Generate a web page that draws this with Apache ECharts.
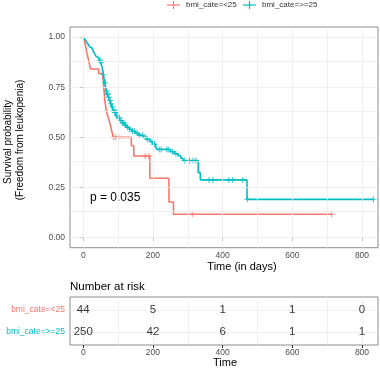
<!DOCTYPE html>
<html>
<head>
<meta charset="utf-8">
<script src="https://cdn.jsdelivr.net/npm/echarts@6/dist/echarts.min.js"></script>
<style>html,body{margin:0;padding:0;background:#fff}#c{width:380px;height:369px}</style>
</head>
<body>
<div id="c"></div>
<script>
// ---- data ----
const groupNames = ['bmi_cate=<25', 'bmi_cate=>=25'];
// Kaplan-Meier steps: [time, survival from this time]
const redSteps = [[0,1.0],[4,0.977],[7,0.955],[9,0.932],[12,0.909],[15,0.886],[18,0.864],[21,0.841],[44,0.818],[56,0.795],[58,0.773],[59,0.750],[60,0.727],[61,0.705],[62,0.682],[64,0.659],[66,0.636],[69,0.614],[73,0.591],[77,0.568],[80,0.545],[83,0.523],[86,0.500],[138,0.458],[145,0.407],[191,0.296],[246,0.178],[259,0.117],[713,0.117]];
const redCensor = [87,93,102,178,188,313,713];
const tealSteps = [[0,1.0],[5,0.988],[9,0.976],[14,0.964],[18,0.952],[22,0.944],[26,0.936],[29,0.928],[33,0.916],[37,0.904],[41,0.896],[45,0.884],[50,0.872],[54,0.852],[56,0.832],[58,0.812],[60,0.792],[62,0.772],[64,0.752],[66,0.732],[68,0.716],[72,0.700],[76,0.684],[79,0.668],[82,0.652],[86,0.636],[90,0.624],[95,0.608],[100,0.596],[105,0.584],[112,0.572],[118,0.560],[124,0.550],[132,0.540],[140,0.530],[150,0.520],[160,0.510],[172,0.500],[182,0.490],[192,0.478],[200,0.466],[208,0.452],[212,0.440],[250,0.428],[262,0.418],[272,0.408],[280,0.396],[286,0.384],[330,0.324],[336,0.288],[470,0.191],[833,0.191]];
const tealCensor = [49,52,58,63,66,69,71,74,77,80,84,88,91,94,97,101,104,108,113,117,121,127,134,141,147,155,162,170,178,185,197,204,218,224,240,244,256,266,291,305,315,323,361,372,418,428,458,471,833];
const riskTimes = [0,200,400,600,800];
const riskRed = [44,5,1,1,0];
const riskTeal = [250,42,6,1,1];
const xTicks = [0,200,400,600,800];
const yTicks = [0,0.25,0.5,0.75,1];
const pValueText = 'p = 0.035';

const RED = '#F8766D', TEAL = '#00BFC4';
const FONT = 'Liberation Sans, Arial, sans-serif';

function survAt(steps, t){ let s = steps[0][1]; for (const p of steps){ if (p[0] <= t) s = p[1]; } return s; }
const plus = 'path://M-0.17,-1H0.17V-0.17H1V0.17H0.17V1H-0.17V0.17H-1V-0.17H-0.17Z';

const xGrid = [0,100,200,300,400,500,600,700,800];
const yGrid = [0,0.125,0.25,0.375,0.5,0.625,0.75,0.875,1];

const chart = echarts.init(document.getElementById('c'), null, {renderer:'canvas'});
function xAxisFor(idx, margin){
  return {
    gridIndex:idx, type:'value', min:-38, max:846,
    axisLine:{show:false},
    axisTick:{show:true, customValues:xTicks, length:3, lineStyle:{color:'#333', width:1}},
    axisLabel:{customValues:xTicks, fontSize:8.5, color:'#4d4d4d', margin:margin, fontFamily:FONT},
    splitLine:{show:false}
  };
}
const gridLineStyle = {color:'#ebebeb', width:0.8, type:'solid'};
function gridSeries(xi, yi, ys){
  return {type:'line', xAxisIndex:xi, yAxisIndex:yi, data:[], silent:true, z:0,
    markLine:{silent:true, symbol:'none', label:{show:false}, lineStyle:gridLineStyle, animation:false,
      data: xGrid.map(v=>({xAxis:v})).concat(ys.map(v=>({yAxis:v})))}};
}
function legendItem(x, color, name){
  return [
    {type:'line', shape:{x1:x, y1:5, x2:x+13, y2:5}, style:{stroke:color, lineWidth:1.2}},
    {type:'line', shape:{x1:x+6.5, y1:1, x2:x+6.5, y2:9}, style:{stroke:color, lineWidth:1.2}},
    {type:'text', x:x+19, y:5, style:{text:name, fill:'#333', font:'8px '+FONT, textAlign:'left', textVerticalAlign:'middle'}}
  ];
}

chart.setOption({
  animation:false,
  textStyle:{fontFamily:FONT},
  grid:[
    {left:70, top:27, width:308, height:220.7, show:true, borderColor:'#8c8c8c', borderWidth:1, backgroundColor:'transparent'},
    {left:70, top:297, width:308, height:48, show:true, borderColor:'#8c8c8c', borderWidth:1, backgroundColor:'transparent'}
  ],
  xAxis:[xAxisFor(0,3), xAxisFor(1,3)],
  yAxis:[
    {gridIndex:0, type:'value', min:-0.05, max:1.05, axisLine:{show:false},
      axisTick:{show:true, customValues:yTicks, length:3, lineStyle:{color:'#333'}},
      axisLabel:{customValues:yTicks, fontSize:8.5, color:'#4d4d4d', margin:5, formatter:v=>v.toFixed(2), fontFamily:FONT},
      splitLine:{show:false}},
    {gridIndex:1, type:'value', min:0.4, max:2.6, axisLine:{show:false},
      axisTick:{show:true, customValues:[1,2], length:3, lineStyle:{color:'#333'}},
      axisLabel:{customValues:[1,2], margin:5, formatter:v=> v===2 ? '{r|'+groupNames[0]+'}' : '{t|'+groupNames[1]+'}',
        rich:{r:{color:RED, fontSize:8.5, fontFamily:FONT}, t:{color:TEAL, fontSize:8.5, fontFamily:FONT}}},
      splitLine:{show:false}}
  ],
  series:[
    gridSeries(0,0,yGrid),
    gridSeries(1,1,[1,2]),
    {name:groupNames[0], type:'line', step:'end', data:redSteps, showSymbol:false, symbol:'none',
      itemStyle:{color:RED}, lineStyle:{color:RED, width:1.6}, z:3},
    {name:groupNames[1], type:'line', step:'end', data:tealSteps, showSymbol:false, symbol:'none',
      itemStyle:{color:TEAL}, lineStyle:{color:TEAL, width:1.6}, z:3},
    {type:'scatter', data:redCensor.map(t=>[t, survAt(redSteps,t)]), symbol:plus, symbolSize:6,
      itemStyle:{color:RED}, z:4, silent:true},
    {type:'scatter', data:tealCensor.map(t=>[t, survAt(tealSteps,t)]), symbol:plus, symbolSize:6,
      itemStyle:{color:TEAL}, z:4, silent:true},
    {type:'scatter', xAxisIndex:1, yAxisIndex:1, symbolSize:1, itemStyle:{color:'transparent'}, z:6,
      data:riskTimes.map((t,i)=>[t,2,riskRed[i]]),
      label:{show:true, position:'inside', formatter:p=>String(p.value[2]), color:'#000', fontSize:11.5, fontFamily:FONT}},
    {type:'scatter', xAxisIndex:1, yAxisIndex:1, symbolSize:1, itemStyle:{color:'transparent'}, z:6,
      data:riskTimes.map((t,i)=>[t,1,riskTeal[i]]),
      label:{show:true, position:'inside', formatter:p=>String(p.value[2]), color:'#000', fontSize:11.5, fontFamily:FONT}}
  ],
  graphic:[].concat(
    legendItem(167, RED, groupNames[0]),
    legendItem(243, TEAL, groupNames[1]),
    [
    {type:'text', x:8, y:142, rotation:Math.PI/2, style:{text:'Survival probability', fill:'#000', font:'10px '+FONT, textAlign:'center', textVerticalAlign:'middle'}},
    {type:'text', x:20, y:140, rotation:Math.PI/2, style:{text:'(Freedom from leukopenia)', fill:'#000', font:'10px '+FONT, textAlign:'center', textVerticalAlign:'middle'}},
    {type:'text', x:242, y:267, style:{text:'Time (in days)', fill:'#000', font:'11px '+FONT, textAlign:'center', textVerticalAlign:'middle'}},
    {type:'text', x:90, y:198, style:{text:pValueText, fill:'#000', font:'12px '+FONT, textAlign:'left', textVerticalAlign:'middle'}},
    {type:'text', x:70, y:287, style:{text:'Number at risk', fill:'#000', font:'11.5px '+FONT, textAlign:'left', textVerticalAlign:'middle'}},
    {type:'text', x:225, y:363, style:{text:'Time', fill:'#000', font:'11px '+FONT, textAlign:'center', textVerticalAlign:'middle'}}
    ])
});
</script>
</body>
</html>
